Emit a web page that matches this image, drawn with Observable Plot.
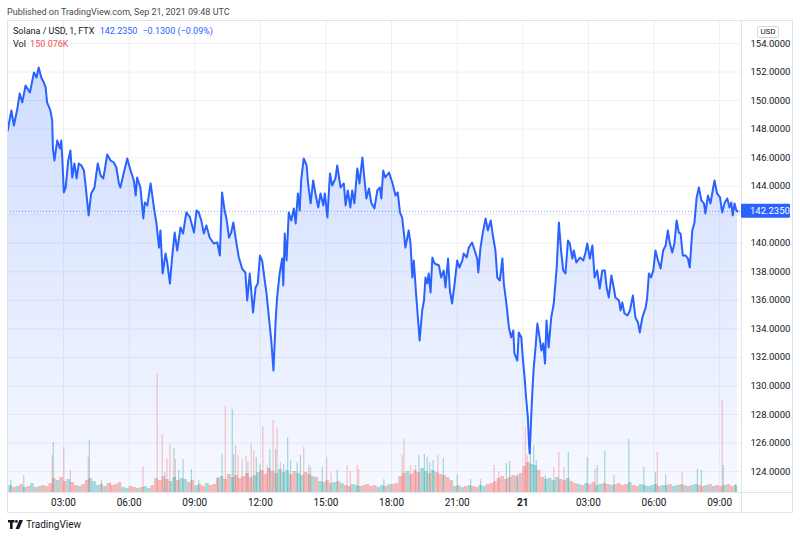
<!DOCTYPE html>
<html><head><meta charset="utf-8">
<script src="https://cdn.jsdelivr.net/npm/d3@7"></script>
<script src="https://cdn.jsdelivr.net/npm/@observablehq/plot@0.6"></script>
<style>
body{margin:0;background:#fff;font-family:Roboto,"Noto Sans",sans-serif;}
#wrap{position:relative;width:800px;height:538px;overflow:hidden;background:#fff;}
#wrap svg.layer{position:absolute;left:0;top:0;}
.t{position:absolute;white-space:nowrap;font-size:9px;line-height:12px;color:#131722;}
.box{position:absolute;box-sizing:border-box;}
</style></head><body><div id="wrap">
<div class="t" style="left:7px;top:6px;font-size:9px;color:#4a4a4a">Published on TradingView.com, Sep 21, 2021 09:48 UTC</div>
</div>
<script>
// ---- price series (1-min chart, sampled), minutes after 2021-09-20 00:00 UTC ----
const priceTimes = [27,37,44,53,60,67,76,88,99,106,112,119,126,131,135,144,149,151,155,163,170,174,177,181,186,193,199,204,210,216,222,229,236,240,249,256,265,274,282,289,293,300,309,318,325,332,336,345,355,364,373,378,382,391,399,403,410,419,428,435,442,446,452,460,465,472,478,485,492,501,508,517,527,
538,545,551,558,565,572,581,592,602,609,615,622,627,634,640,646,652,661,670,679,684,691,700,707,713,719,725,731,737,743,750,756,762,766,773,780,783,787,792,798,805,812,817,823,828,832,839,847,851,858,865,871,879,885,893,897,904,911,917,926,931,940,949,954,960,967,972,978,986,992,1000,1006,1011,1018,
1024,1033,1041,1048,1052,1057,1063,1073,1082,1091,1097,1103,1109,1114,1118,1127,1132,1137,1141,1148,1157,1164,1169,1173,1178,1182,1187,1192,1198,1210,1216,1223,1228,1235,1240,1246,1253,1260,1266,1274,1278,1286,1292,1301,1308,1315,1318,1324,1330,1338,1344,1352,1358,1365,1370,1377,1384,1388,1395,1402,1408,1414,1417,1425,1429,1436,1440,1445,1449,1454,1457,1459,1463,1466,1470,1475,1480,1486,1491,1496,1501,1505,1511,1518,1525,1533,1539,
1545,1551,1557,1564,1569,1576,1580,1587,1597,1606,1612,1617,1624,1631,1637,1644,1651,1658,1665,1670,1676,1683,1690,1694,1704,1708,1713,1719,1727,1734,1742,1749,1756,1761,1768,1777,1781,1786,1792,1798,1804,1811,1818,1825,1832,1838,1843,1850,1856,1862,1868,1873,1879,1887,1893,1898,1905,1911,1917,1923,1930,1937,1941,1948,1955,1961,1966,1973,1981,1987,1994,2001,2007,2012,2016,2021,2026,2029];
const prices = [147.90,149.31,148.25,149.37,150.50,149.87,151.06,150.57,151.97,151.62,152.32,151.62,151.27,150.92,149.87,149.31,148.60,146.64,145.80,147.20,146.64,147.20,145.80,143.56,143.91,145.80,146.50,144.61,145.59,144.54,145.59,145.45,145.10,144.19,141.95,143.49,143.91,145.59,144.75,144.54,145.10,146.22,145.80,145.66,145.31,144.19,143.91,144.89,145.94,145.10,144.40,143.35,144.61,143.91,141.74,142.86,142.65,144.19,142.51,141.39,139.70,140.90,137.88,139.28,138.58,137.18,139.00,140.75,139.49,141.11,140.68,142.16,141.81,
140.75,142.30,142.16,141.60,140.68,141.25,140.40,139.98,140.05,139.14,143.56,142.30,141.74,140.40,140.75,141.46,140.40,139.00,138.23,137.95,135.99,137.88,135.15,136.90,137.18,139.14,138.79,137.60,136.48,134.94,133.19,131.08,134.59,136.20,137.88,138.93,137.04,140.68,138.79,142.16,141.60,142.44,141.39,143.49,142.30,144.40,145.94,145.45,144.19,142.79,144.40,143.49,142.51,143.49,142.65,143.49,141.81,144.89,144.05,144.54,145.45,143.91,144.19,142.65,143.70,142.51,143.70,142.79,145.24,144.19,146.01,144.40,143.14,143.84,
142.86,142.44,143.70,143.91,143.14,145.10,144.61,144.96,144.26,143.35,143.56,142.16,141.81,140.68,139.70,140.90,139.98,137.60,138.79,136.20,133.19,135.29,135.99,137.60,137.18,137.88,136.55,139.00,138.58,138.44,137.60,138.09,136.90,138.93,136.69,135.78,137.18,138.79,138.30,138.79,139.28,139.00,139.70,140.05,139.49,138.93,137.95,139.70,140.68,141.74,140.90,141.60,140.54,139.49,137.60,137.39,138.93,137.18,135.78,134.10,133.40,133.89,132.28,131.78,133.75,133.40,131.99,130.59,129.19,127.79,125.97,125.27,127.79,129.47,131.29,132.70,134.38,133.40,132.49,132.98,131.57,134.59,132.70,134.80,135.78,138.30,141.46,
139.49,138.09,137.88,140.19,139.98,138.93,139.49,138.65,139.00,138.79,139.35,139.98,138.93,139.84,137.60,138.09,136.83,138.09,138.09,136.90,136.20,137.74,136.83,136.20,135.99,135.29,135.85,135.08,134.94,135.29,136.34,134.80,134.45,133.75,134.80,135.50,136.13,137.88,137.60,138.09,139.49,138.79,138.23,139.49,139.84,140.90,140.05,139.35,139.98,141.60,140.75,140.68,139.14,139.14,138.93,138.30,140.90,141.46,143.21,143.91,143.00,142.79,142.09,143.35,142.79,143.70,144.40,143.49,143.21,142.16,142.86,143.14,142.51,142.86,141.95,142.79,142.30,142.235];

// ---- volume (K): base level in 10-minute buckets starting 00:30 ----
const floorStartMin = 30, floorStepMin = 10;
const floorVols = [70,50,60,80,50,60,90,50,60,70,60,90,
140,120,150,110,130,100, 70,60,80, 120,140,110, 70,80,60, 90,70,80,100,
50,40,60,50,40,50,60,40,70,
140,120,160,130,110,150,120,140,130,100,120,
70,80,60,90,70,80,
140,160,130,180,150,170,140,160,190,150,170,
200,220,180,240,210,190,230,200,220,180,210,190,170,200,180,160,150,
110,100,120,90,100,110,90,
70,60,80,70,60,70,80,60,70,50,70,60,80, 80,90,
160,190,210,180,220,200,240,210,190,220,200,180,170,150,120,
60,70,50,60,70,60,50,70,60,80,90,110,
140,160,130,150,170,160,190,
260,300,280,270,220,
150,130,140,120,150,130,120,140,110,
90,80,70,90,80,100,70,80,90,80,70,80,90,70,80,100,
70,60,80,70,60,70,80,60,70,70,80,60,70,80,70,60,70,80,70,60,70,80,60,70,60,70,80,60,70];
// ---- volume spikes ----
const spikeTimes = [35,71,149,152,181,199,248,251,284,309,398,437,451,458,464,472,483,487,496,508,531,551,603,615,624,643,647,652,659,670,681,686,695,702,709,719,727,739,746,755,762,766,775,784,795,803,821,830,839,853,858,890,902,914,931,958,967,986,990,1059,1109,1114,1132,1146,1155,1170,1178,1185,1194,1207,1222,1260,1297,1324,1361,1374,1395,1404,1425,1447,1452,1461,1470,1477,1502,1525,1539,1553,1565,1617,1638,1644,1665,1690,1731,1772,1804,1809,1832,1877,1919,1930,1987,1990,2024];
const spikeVols = [120,170,370,500,450,220,350,520,120,100,260,1180,580,200,330,480,440,330,220,330,230,120,150,380,860,830,380,470,370,330,360,300,490,420,350,280,660,270,430,720,430,640,300,280,550,320,300,370,450,270,250,250,350,190,220,270,210,270,230,130,370,530,270,270,370,380,350,300,320,370,340,170,130,130,270,210,290,310,180,650,370,400,470,320,170,250,400,250,400,350,230,270,410,170,530,250,200,400,180,200,230,220,920,270,80];
const spikeDirs = "ggrgrrrggrrrrgrrgrggggggrggrrrrgrrggrrgrgrrgggggrgrgrrgrrrrgrrrrgggggrggggrrggrrrggggrrrggrggggggrgrggrgg";

// ---- axes ----
const priceTicks = [124,126,128,130,132,134,136,138,140,142,144,146,148,150,152,154];
const timeTickLabels = ["2021-09-20T03:00Z","2021-09-20T06:00Z","2021-09-20T09:00Z","2021-09-20T12:00Z","2021-09-20T15:00Z","2021-09-20T18:00Z","2021-09-20T21:00Z","2021-09-21T03:00Z","2021-09-21T06:00Z","2021-09-21T09:00Z"];
const dayTickLabel = "2021-09-21T00:00Z";
const lastPrice = 142.235;

const BLUE = "#2962FF", RED = "#ef5350", GREEN = "#26a69a";
const T0 = Date.UTC(2021, 8, 20);
const toDate = m => new Date(T0 + m * 60000);
const priceData = priceTimes.map((m, i) => ({t: toDate(m), p: prices[i]}));
const timeTicks = timeTickLabels.map(s => new Date(s));
const dayTick = new Date(dayTickLabel);
// the 142 tick label sits under the last-price tag, as in the reference
const labelTicks = priceTicks.filter(v => Math.abs(v - lastPrice) > 1);

const isUp = (a, b) => {
  const i0 = Math.max(0, d3.bisectRight(priceTimes, a) - 1);
  const i1 = Math.min(prices.length - 1, d3.bisectRight(priceTimes, b) - 1);
  return prices[i1] >= prices[i0];
};
const floorData = floorVols.map((v, i) => {
  const a = floorStartMin + i * floorStepMin, b = a + floorStepMin;
  return {t1: toDate(a), t2: toDate(b), v, up: isUp(a, b)};
});
const spikeData = spikeTimes.map((m, i) => ({t: toDate(m), v: spikeVols[i], up: spikeDirs[i] === "g"}));

const W = 800, H = 538;
const dims = {width: W, height: H, marginTop: 20, marginRight: 59, marginBottom: 46, marginLeft: 7};
const xDomain = [toDate(26.4), toDate(2040)];
const yDomain = [122.535, 155.61];
const style = {background: "transparent", fontFamily: "Roboto, 'Noto Sans', sans-serif", fontSize: "10px", color: "#131722", overflow: "visible"};

const basePlot = Plot.plot({
  ...dims, style,
  x: {type: "utc", domain: xDomain},
  y: {domain: yDomain},
  marks: [
    Plot.gridX([...timeTicks, dayTick], {stroke: "#eef0f6", strokeOpacity: 1}),
    Plot.gridY(priceTicks, {stroke: "#eef0f6", strokeOpacity: 1}),
    Plot.areaY(priceData, {x: "t", y1: yDomain[0], y2: "p", fill: "url(#areaGrad)"}),
    Plot.frame({stroke: "#e0e3eb"}),
    Plot.axisY(labelTicks, {anchor: "right", label: null, tickSize: 0, tickPadding: 9, tickFormat: d3.format(".4f"), fill: "#131722", fontSize: 9.5}),
    Plot.axisX(timeTicks, {anchor: "bottom", label: null, tickSize: 0, tickPadding: 6, tickFormat: d3.utcFormat("%H:%M"), fill: "#131722", fontSize: 10}),
    Plot.axisX([dayTick], {anchor: "bottom", label: null, tickSize: 0, tickPadding: 6, tickFormat: d3.utcFormat("%-d"), fill: "#131722", fontSize: 10, fontWeight: "bold"})
  ]
});
d3.select(basePlot).insert("defs", ":first-child").html(
  `<linearGradient id="areaGrad" gradientUnits="userSpaceOnUse" x1="0" y1="20" x2="0" y2="492">
     <stop offset="0" stop-color="${BLUE}" stop-opacity="0.24"/>
     <stop offset="1" stop-color="${BLUE}" stop-opacity="0.04"/>
   </linearGradient>`);

const volPlot = Plot.plot({
  ...dims, style,
  x: {type: "utc", domain: xDomain, axis: null},
  y: {domain: [0, 4720], axis: null},
  marks: [
    Plot.rectY(floorData.filter(d => d.up), {x1: "t1", x2: "t2", y1: 0, y2: "v", fill: GREEN, fillOpacity: 0.38}),
    Plot.rectY(floorData.filter(d => !d.up), {x1: "t1", x2: "t2", y1: 0, y2: "v", fill: RED, fillOpacity: 0.38}),
    Plot.ruleX(spikeData.filter(d => d.up), {x: "t", y1: 0, y2: "v", stroke: GREEN, strokeOpacity: 0.4, strokeWidth: 1.2}),
    Plot.ruleX(spikeData.filter(d => !d.up), {x: "t", y1: 0, y2: "v", stroke: RED, strokeOpacity: 0.33, strokeWidth: 1.2})
  ]
});

const linePlot = Plot.plot({
  ...dims, style,
  x: {type: "utc", domain: xDomain, axis: null},
  y: {domain: yDomain, axis: null},
  marks: [
    Plot.ruleY([lastPrice], {stroke: BLUE, strokeDasharray: "1,2", strokeOpacity: 0.6}),
    Plot.lineY(priceData, {x: "t", y: "p", stroke: BLUE, strokeWidth: 2})
  ]
});
const yLast = linePlot.scale("y").apply(lastPrice);
const lg = d3.select(linePlot).append("g");
lg.append("rect").attr("x", 741).attr("y", yLast - 7).attr("width", 49).attr("height", 14).attr("fill", BLUE).attr("rx", 1);
lg.append("text").attr("x", 750).attr("y", yLast).attr("dy", "0.35em").attr("fill", "#fff")
  .attr("text-anchor", "start").attr("font-size", 9.5).attr("font-family", "Roboto, sans-serif")
  .text(d3.format(".4f")(lastPrice));

const wrap = document.getElementById("wrap");
for (const s of [basePlot, volPlot, linePlot]) { s.classList.add("layer"); wrap.appendChild(s); }

// frame pieces outside the plot frame
const addBox = (l, t, w, h, css) => { const d = document.createElement("div"); d.className = "box";
  d.style.cssText += `left:${l}px;top:${t}px;width:${w}px;height:${h}px;${css}`; wrap.appendChild(d); return d; };
addBox(7, 20, 786, 493, "border:1px solid #e0e3eb;");
addBox(741, 492, 1, 20, "background:#e0e3eb;");
addBox(741, 492, 51, 1, "background:#e0e3eb;");
const usd = addBox(757, 26, 22, 12, "border:1px solid #d1d4dc;border-radius:2px;background:#fff;font-size:8px;line-height:10px;text-align:center;color:#131722;");
usd.textContent = "USD";

// legend
const legend = document.createElement("div");
legend.className = "t"; legend.style.cssText += "left:13px;top:25px;line-height:13px;";
legend.innerHTML = `Solana / USD, 1, FTX <span style="color:${BLUE};margin-left:3px">142.2350</span><span style="color:${BLUE};margin-left:5px">−0.1300 (−0.09%)</span><br>Vol <span style="color:${RED};margin-left:2px">150.076K</span>`;
wrap.appendChild(legend);

// TradingView logo
const logo = document.createElement("div");
logo.className = "t"; logo.style.cssText += "left:8px;top:519px;font-size:10px;";
logo.innerHTML = `<svg width="15" height="9" viewBox="0 0 15 9" style="vertical-align:-1px;margin-right:3px"><path d="M0 0h6.5v2.6H4.6V9H2V2.6H0z" fill="#131722"/><circle cx="8.4" cy="1.4" r="1.4" fill="#131722"/><path d="M11.3 0H15l-3.8 9H7.6z" fill="#131722"/></svg>TradingView`;
wrap.appendChild(logo);
</script></body></html>
